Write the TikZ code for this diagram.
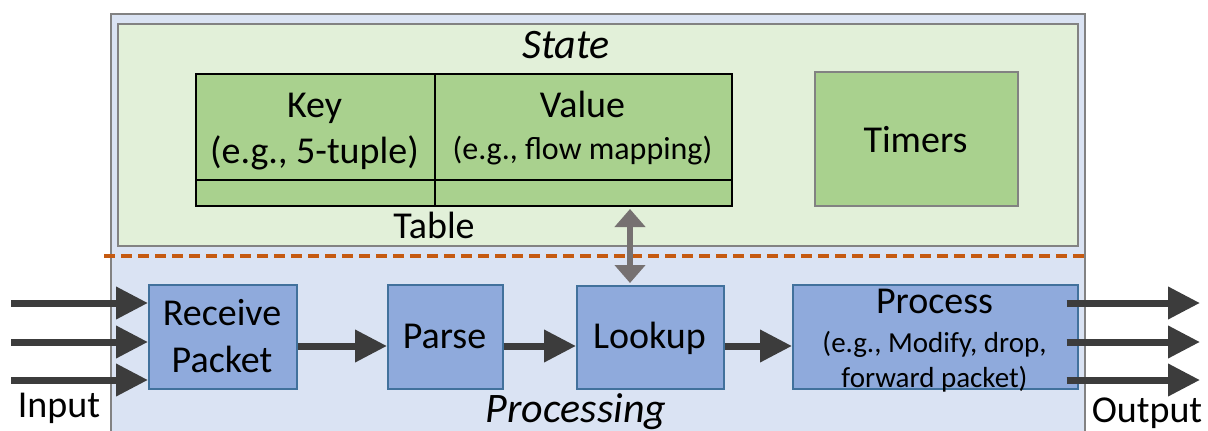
\documentclass[tikz,border=0pt]{standalone}
\usepackage{fontspec}
\setmainfont{Carlito}
\usetikzlibrary{arrows.meta,calc}

\definecolor{procbg}{HTML}{DAE3F3}
\definecolor{statebg}{HTML}{E2F0D9}
\definecolor{cellfill}{HTML}{A9D18E}
\definecolor{blockfill}{HTML}{8FAADC}
\definecolor{blockdraw}{HTML}{41719C}
\definecolor{flowcol}{HTML}{3C3C3C}
\definecolor{linkcol}{HTML}{767171}
\definecolor{sepcol}{HTML}{C55A11}
\definecolor{framecol}{HTML}{828282}

\tikzset{
  area/.style={draw=framecol, line width=2pt, inner sep=0pt, anchor=north west},
  cell/.style={draw=black, fill=cellfill, line width=2pt, inner sep=0pt, anchor=north west},
  stage/.style={draw=blockdraw, fill=blockfill, line width=1.5pt, inner sep=0pt, anchor=north west},
  txt/.style={inner sep=0pt, anchor=base, font=\fontsize{38}{44}\selectfont},
  smalltxt/.style={inner sep=0pt, anchor=base, font=\fontsize{29}{34}\selectfont},
  headtxt/.style={inner sep=0pt, anchor=base, font=\fontsize{42}{48}\selectfont\itshape},
  flow/.style={draw=flowcol, line width=7pt, -{Triangle[length=32pt,width=31pt]}},
  link/.style={draw=linkcol, line width=6pt, {Triangle[length=18pt,width=30pt]}-{Triangle[length=18pt,width=30pt]}},
}

\begin{document}
\begin{tikzpicture}[x=1pt,y=-1pt]
\useasboundingbox (0,0) rectangle (1208,431);

% containers
\node[area, fill=procbg, minimum width=974pt, minimum height=440pt] (system) at (110,13) {};
\node[area, fill=statebg, minimum width=960pt, minimum height=222pt] (state) at (117,23) {};

% state / processing separator
\coordinate (sepL) at (104,256);
\coordinate (sepR) at (1085,256);
\draw[sepcol, line width=3.5pt, dash pattern=on 11pt off 6pt] (sepL) -- (sepR);

% table
\node[cell, minimum width=239pt, minimum height=106pt] (keycell) at (195,73) {};
\node[cell, minimum width=297pt, minimum height=106pt] (valcell) at (434,73) {};
\node[cell, minimum width=239pt, minimum height=26pt] (keyrow) at (195,179) {};
\node[cell, minimum width=297pt, minimum height=26pt] (valrow) at (434,179) {};

\node[txt] (keylbl) at (314.5,117) {Key};
\node[txt] (keysub) at (314.5,163) {(e.g., 5-tuple)};
\node[txt] (vallbl) at (582.5,117) {Value};
\node[inner sep=0pt, anchor=base, font=\fontsize{32}{38}\selectfont] (valsub) at (582.5,159) {(e.g., flow mapping)};
\node[txt] (tbllbl) at (434,238) {Table};

% timers
\node[area, fill=cellfill, minimum width=203pt, minimum height=134pt] (timers) at (814,71) {};
\node[txt] (timerlbl) at (915.5,152) {Timers};

\node[headtxt] (statelbl) at (566,58) {State};

% processing stages
\node[stage, minimum width=148pt, minimum height=104pt] (recv) at (148,284) {};
\node[txt] (recv1) at (222,325) {Receive};
\node[txt] (recv2) at (222,372) {Packet};

\node[stage, minimum width=115pt, minimum height=104pt] (parse) at (387,284) {};
\node[txt] (parselbl) at (444.5,348) {Parse};

\node[stage, minimum width=147pt, minimum height=103pt] (lookup) at (576,285) {};
\node[txt] (lookuplbl) at (649.5,348) {Lookup};

\node[stage, minimum width=285pt, minimum height=104pt] (proc) at (792,284) {};
\node[txt] (proc1) at (934.5,313) {Process};
\node[smalltxt] (proc2) at (934.5,352) {(e.g., Modify, drop,};
\node[smalltxt] (proc3) at (934.5,387) {forward packet)};

\node[headtxt] (proclbl) at (576,422) {Processing};

% inputs
\coordinate (in1) at (11,303);
\coordinate (in2) at (11,342);
\coordinate (in3) at (11,380);
\draw[flow] (in1) -- (recv.west |- in1);
\draw[flow] (in2) -- (recv.west |- in2);
\draw[flow] (in3) -- (recv.west |- in3);
\node[txt] (inlbl) at (59,417) {Input};

% pipeline
\draw[flow] (recv.east |- 0,346) -- (parse.west |- 0,346);
\draw[flow] (parse.east |- 0,346) -- (lookup.west |- 0,346);
\draw[flow] (lookup.east |- 0,346) -- (proc.west |- 0,346);

% table access
\coordinate (linkx) at (630,0);
\draw[link, shorten <=2pt, shorten >=2pt] (valrow.south -| linkx) -- (lookup.north -| linkx);

% outputs
\coordinate (out1) at (1200,303);
\coordinate (out2) at (1200,342);
\coordinate (out3) at (1200,380);
\draw[flow] ($(proc.east |- out1)+(-12,0)$) -- (out1);
\draw[flow] ($(proc.east |- out2)+(-12,0)$) -- (out2);
\draw[flow] ($(proc.east |- out3)+(-12,0)$) -- (out3);
\node[txt] (outlbl) at (1147,422) {Output};
\end{tikzpicture}
\end{document}
